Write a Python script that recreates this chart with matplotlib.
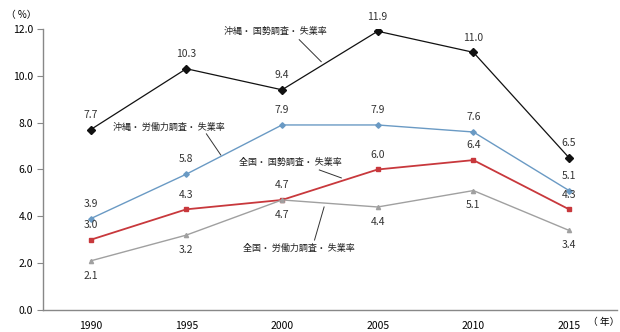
import matplotlib.pyplot as plt

plt.rcParams['font.family'] = ['Noto Sans CJK JP', 'DejaVu Sans']

# 年次と各系列の失業率（%）
years = ['1990', '1995', '2000', '2005', '2010', '2015']
okinawa_census = [7.7, 10.3, 9.4, 11.9, 11.0, 6.5]
okinawa_lfs = [3.9, 5.8, 7.9, 7.9, 7.6, 5.1]
zenkoku_census = [3.0, 4.3, 4.7, 6.0, 6.4, 4.3]
zenkoku_lfs = [2.1, 3.2, 4.7, 4.4, 5.1, 3.4]

x = list(range(len(years)))

fig = plt.figure(figsize=(6.2, 3.32), dpi=100)
ax = fig.add_axes([0.069, 0.066, 0.926, 0.847])

series = [
    (okinawa_census, '#111111', 'D', 4.0, 0.9, 'above'),
    (okinawa_lfs, '#6a9ac4', 'D', 2.8, 1.0, 'above'),
    (zenkoku_census, '#c8383c', 's', 2.6, 1.3, 'above'),
    (zenkoku_lfs, '#a0a0a0', '^', 3.0, 1.0, 'below'),
]

for vals, col, mk, ms, lw, pos in series:
    ax.plot(x, vals, color=col, marker=mk, markersize=ms, linewidth=lw)
    for xi, v in zip(x, vals):
        if pos == 'above':
            ax.annotate(f'{v:.1f}', (xi, v), xytext=(0, 7), textcoords='offset points',
                        ha='center', va='bottom', fontsize=7.5, color='#333333')
        else:
            ax.annotate(f'{v:.1f}', (xi, v), xytext=(0, -7), textcoords='offset points',
                        ha='center', va='top', fontsize=7.5, color='#333333')

# 系列名と引き出し線
callouts = [
    ('沖縄・ 国勢調査・ 失業率', (1.93, 11.88), (2.18, 11.54), (2.41, 10.6)),
    ('沖縄・ 労働力調査・ 失業率', (0.82, 7.82), (1.21, 7.52), (1.36, 6.62)),
    ('全国・ 国勢調査・ 失業率', (2.09, 6.32), (2.39, 5.98), (2.62, 5.64)),
    ('全国・ 労働力調査・ 失業率', (2.18, 2.65), (2.34, 2.99), (2.44, 4.40)),
]
for txt, tpos, p0, p1 in callouts:
    ax.text(tpos[0], tpos[1], txt, ha='center', va='center', fontsize=6.5, color='#222222')
    ax.plot([p0[0], p1[0]], [p0[1], p1[1]], color='#333333', linewidth=0.7)

ax.set_xlim(-0.5, 5.5)
ax.set_ylim(0, 12)
ax.set_xticks(x)
ax.set_xticklabels(years)
ax.set_yticks([0, 2, 4, 6, 8, 10, 12])
ax.set_yticklabels([f'{v:.1f}' for v in [0, 2, 4, 6, 8, 10, 12]])
ax.tick_params(axis='y', length=4, width=0.8, color='#888888', labelsize=7.5, pad=3)
ax.tick_params(axis='x', length=0, labelsize=7.5, pad=8)
for s in ['top', 'right']:
    ax.spines[s].set_visible(False)
for s in ['left', 'bottom']:
    ax.spines[s].set_color('#888888')
    ax.spines[s].set_linewidth(1.0)

fig.text(0.01, 0.955, '（ %）', fontsize=7, ha='left', va='center')
fig.text(0.948, 0.03, '（ 年）', fontsize=7, ha='left', va='center')

fig.savefig('out.png', dpi=100)
